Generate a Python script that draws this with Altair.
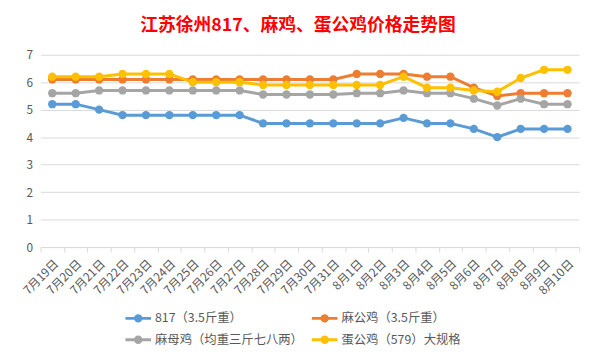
import altair as alt
import pandas as pd

dates = ["7月19日", "7月20日", "7月21日", "7月22日", "7月23日", "7月24日", "7月25日",
         "7月26日", "7月27日", "7月28日", "7月29日", "7月30日", "7月31日", "8月1日",
         "8月2日", "8月3日", "8月4日", "8月5日", "8月6日", "8月7日", "8月8日", "8月9日", "8月10日"]

series_names = ["817（3.5斤重）", "麻公鸡（3.5斤重）", "麻母鸡（均重三斤七八两）", "蛋公鸡（579）大规格"]
series_colors = ["#5B9BD5", "#ED7D31", "#A5A5A5", "#FFC000"]

s817 = [5.2, 5.2, 5.0, 4.8, 4.8, 4.8, 4.8, 4.8, 4.8, 4.5, 4.5, 4.5, 4.5, 4.5, 4.5,
        4.7, 4.5, 4.5, 4.3, 4.0, 4.3, 4.3, 4.3]
ma_gong = [6.1, 6.1, 6.1, 6.1, 6.1, 6.1, 6.1, 6.1, 6.1, 6.1, 6.1, 6.1, 6.1, 6.3, 6.3,
           6.3, 6.2, 6.2, 5.8, 5.5, 5.6, 5.6, 5.6]
ma_mu = [5.6, 5.6, 5.7, 5.7, 5.7, 5.7, 5.7, 5.7, 5.7, 5.55, 5.55, 5.55, 5.55, 5.6, 5.6,
         5.7, 5.6, 5.6, 5.4, 5.15, 5.4, 5.2, 5.2]
dan_gong = [6.2, 6.2, 6.2, 6.3, 6.3, 6.3, 6.0, 6.0, 6.0, 5.9, 5.9, 5.9, 5.9, 5.9, 5.9,
            6.2, 5.8, 5.8, 5.7, 5.65, 6.15, 6.45, 6.45]

y_ticks = [0, 1, 2, 3, 4, 5, 6, 7]

rows = []
for name, vals in zip(series_names, [s817, ma_gong, ma_mu, dan_gong]):
    for i, (d, v) in enumerate(zip(dates, vals)):
        rows.append({"date": d, "series": name, "line_series": name, "price": v, "order": i})
df = pd.DataFrame(rows)

font = "Noto Sans CJK SC"
legend_path = ("M-1.333,-0.154L1.333,-0.154L1.333,0.154L-1.333,0.154Z "
               "M0.44,0A0.44,0.44,0,1,1,-0.44,0A0.44,0.44,0,1,1,0.44,0Z")

x_enc = alt.X("date:N", sort=dates,
              scale=alt.Scale(type="band", paddingInner=0, paddingOuter=0),
              axis=alt.Axis(title=None, labelAngle=-45, tickBand="extent",
                            domainColor="#d9d9d9", tickColor="#d9d9d9", tickSize=5,
                            labelColor="#595959", labelFontSize=12, labelFont=font,
                            labelPadding=6, grid=False))
y_enc = alt.Y("price:Q", scale=alt.Scale(domain=[0, 7], nice=False),
              axis=alt.Axis(title=None, values=y_ticks, grid=True, gridColor="#d9d9d9",
                            domain=False, ticks=False, labelColor="#595959",
                            labelFontSize=12, labelFont=font, labelPadding=8))

lines = alt.Chart(df).mark_line(strokeWidth=3).encode(
    x=x_enc, y=y_enc,
    stroke=alt.Stroke("line_series:N",
                      scale=alt.Scale(domain=series_names, range=series_colors),
                      legend=None),
    order="order:Q",
)
points = alt.Chart(df).mark_point(filled=True, size=72, opacity=1, shape="circle").encode(
    x=x_enc, y=y_enc,
    fill=alt.Fill("series:N",
                  scale=alt.Scale(domain=series_names, range=series_colors),
                  legend=alt.Legend(title=None, orient="none", legendX=89, legendY=257,
                                    direction="horizontal", columns=2,
                                    symbolType=legend_path, symbolSize=380,
                                    symbolStrokeWidth=0, labelOffset=7,
                                    columnPadding=8, rowPadding=5, padding=0,
                                    labelFontSize=12.5, labelFont=font,
                                    labelColor="#595959", labelLimit=300)),
)

chart = alt.layer(lines, points).resolve_scale(fill="independent", stroke="independent").properties(
    width=546, height=195,
    padding={"left": 33, "top": 45, "right": 17, "bottom": 103},
    autosize=alt.AutoSizeParams(type="none"),
    background="white",
    title=alt.TitleParams("江苏徐州817、麻鸡、蛋公鸡价格走势图", color="#FF0000",
                          fontSize=18, fontWeight="bold", font=font,
                          anchor="middle", frame="group", dx=-12, offset=14),
).configure_view(stroke=None)

chart.save("out.html", embed_options={"renderer": "svg", "actions": False})
